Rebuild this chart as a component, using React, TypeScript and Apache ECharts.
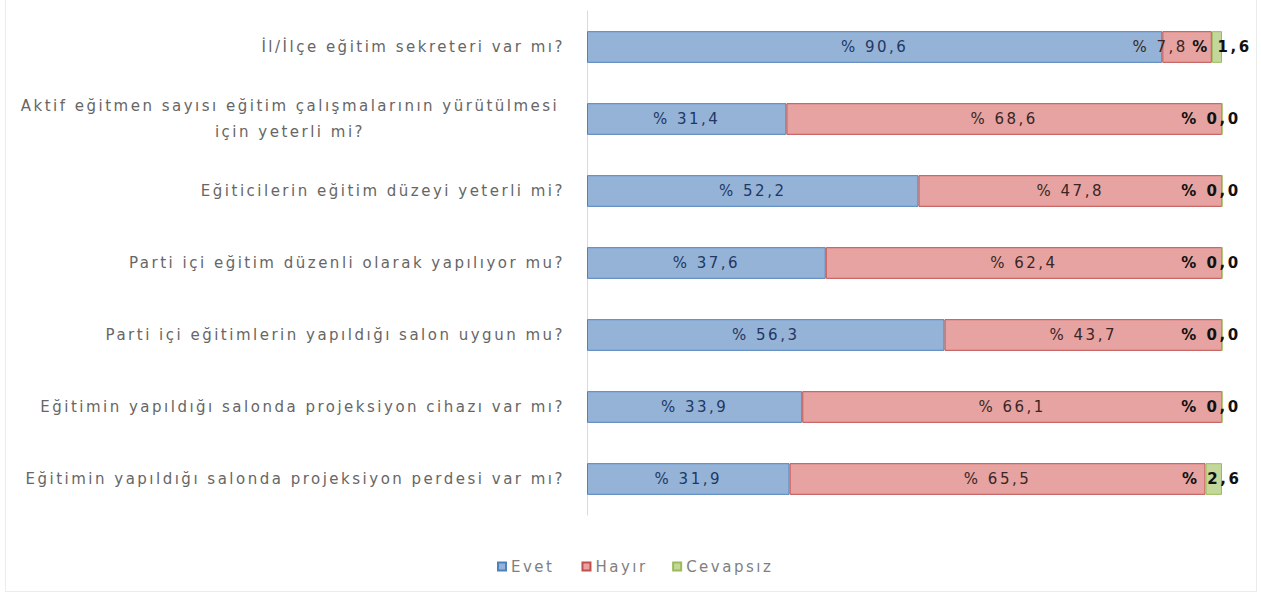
import React, { useEffect, useRef } from "react";
import * as echarts from "echarts";

const categories = [
  "İl/İlçe eğitim sekreteri var mı?",
  "Aktif eğitmen sayısı eğitim çalışmalarının yürütülmesi\niçin yeterli mi?",
  "Eğiticilerin eğitim düzeyi yeterli mi?",
  "Parti içi eğitim düzenli olarak yapılıyor mu?",
  "Parti içi eğitimlerin yapıldığı salon uygun mu?",
  "Eğitimin yapıldığı salonda projeksiyon cihazı var mı?",
  "Eğitimin yapıldığı salonda projeksiyon perdesi var mı?",
];
const evet = [90.6, 31.4, 52.2, 37.6, 56.3, 33.9, 31.9];
const hayir = [7.8, 68.6, 47.8, 62.4, 43.7, 66.1, 65.5];
const cevapsiz = [1.6, 0, 0, 0, 0, 0, 2.6];
const seriesNames = ["Evet", "Hayır", "Cevapsız"];

const fmt = (v: number) => "% " + v.toFixed(1).replace(".", ",");

export default function App() {
  const ref = useRef<HTMLDivElement>(null);
  useEffect(() => {
    if (!ref.current) return;
    const chart = echarts.init(ref.current, undefined, { renderer: "svg" });
    const font = "DejaVu Sans";
    chart.setOption({
      animation: false,
      backgroundColor: "#ffffff",
      grid: {
        left: 587,
        right: 39,
        top: 11,
        bottom: 78,
        containLabel: false,
        outerBoundsMode: "none",
      },
      legend: {
        data: seriesNames,
        top: 554,
        left: 492,
        itemWidth: 8,
        itemHeight: 8,
        itemGap: 37,
        icon: "rect",
        textStyle: { fontFamily: font, fontSize: 15, color: "#7f7f7f" },
      },
      xAxis: {
        type: "value",
        min: 0,
        max: 100,
        show: false,
      },
      yAxis: {
        type: "category",
        data: categories,
        inverse: true,
        axisLine: { show: true, lineStyle: { color: "#d9d9d9" } },
        axisTick: { show: false },
        axisLabel: {
          margin: 22,
          fontFamily: font,
          fontSize: 15,
          color: "#666666",
          formatter: (v: string) => {
            if (v.includes("\n")) {
              const [a, b] = v.split("\n");
              return "{c|" + a + "}\n{c|" + b + "}";
            }
            return v;
          },
          rich: {
            c: {
              fontFamily: font,
              fontSize: 15,
              color: "#666666",
              align: "center",
              width: 550,
              lineHeight: 26,
            },
          },
        },
      },
      series: [
        {
          name: "Evet",
          type: "bar",
          stack: "t",
          data: evet,
          barWidth: "44%",
          itemStyle: { color: "#95B3D7", borderColor: "#4F81BD", borderWidth: 1 },
          label: {
            show: true,
            position: "inside",
            formatter: (p: any) => fmt(p.value),
            fontFamily: font,
            fontSize: 15,
            color: "#1F3864",
          },
        },
        {
          name: "Hayır",
          type: "bar",
          stack: "t",
          data: hayir.map((v) =>
            v < 10 ? { value: v, label: { offset: [-27, 0] } } : v
          ),
          itemStyle: { color: "#E6A3A1", borderColor: "#C0504D", borderWidth: 1 },
          label: {
            show: true,
            position: "inside",
            formatter: (p: any) => fmt(p.value),
            fontFamily: font,
            fontSize: 15,
            color: "#3a2626",
          },
        },
        {
          name: "Cevapsız",
          type: "bar",
          stack: "t",
          data: cevapsiz.map((v) => ({
            value: v,
            label: { offset: [v === 0 ? -11 : v < 2 ? 5 : -2, 0] },
          })),
          itemStyle: { color: "#C4D79B", borderColor: "#9BBB59", borderWidth: 1 },
          label: {
            show: true,
            position: "inside",
            formatter: (p: any) => fmt(p.value),
            fontFamily: font,
            fontSize: 15,
            fontWeight: "bold",
            color: "#111111",
          },
        },
      ],
    });
    return () => chart.dispose();
  }, []);
  return (
    <div className="chartbox" style={{ position: "absolute", left: 0, top: 0, width: 1261, height: 593 }}>
      <style>{".chartbox svg text{letter-spacing:2.5px}"}</style>
      <div ref={ref} style={{ width: 1261, height: 593 }} />
      <div
        style={{
          position: "absolute",
          left: 5,
          top: -2,
          width: 1250,
          height: 592,
          border: "1px solid #ececec",
          pointerEvents: "none",
        }}
      />
    </div>
  );
}
